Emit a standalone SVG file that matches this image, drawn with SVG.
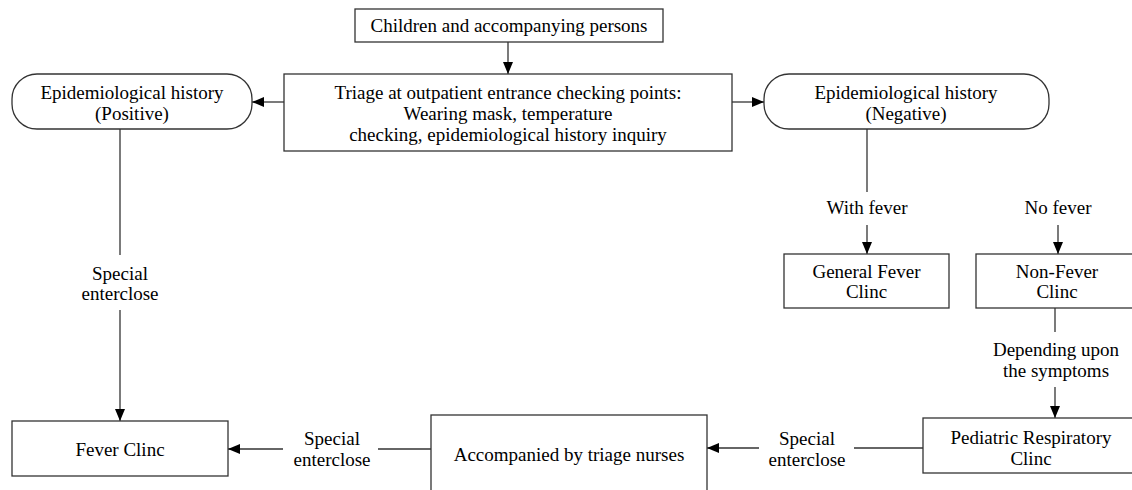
<svg xmlns="http://www.w3.org/2000/svg" width="1132" height="490" viewBox="0 0 1132 490">
<defs>
<marker id="ah" markerUnits="userSpaceOnUse" markerWidth="12" markerHeight="10" refX="12" refY="5" orient="auto">
<path d="M0,0 L12,5 L0,10 Z" fill="#000"/>
</marker>
<style>
.box{fill:#fff;stroke:#333;stroke-width:1.3}
.t{font-family:"Liberation Serif","Times New Roman",serif;font-size:19px;fill:#000;text-anchor:middle}
.c{fill:none;stroke:#333;stroke-width:1.3}
.a{fill:none;stroke:#333;stroke-width:1.3;marker-end:url(#ah)}
</style>
</defs>
<rect width="1132" height="490" fill="#fff"/>
<g id="connectors">
<line class="a" x1="508" y1="42" x2="508" y2="74"/>
<line class="a" x1="284" y1="102" x2="252" y2="102"/>
<line class="a" x1="732" y1="102" x2="764" y2="102"/>
<line class="c" x1="867" y1="129" x2="867" y2="192"/>
<line class="a" x1="867" y1="225" x2="867" y2="254"/>
<line class="a" x1="1058" y1="225" x2="1058" y2="254"/>
<line class="c" x1="1055" y1="308" x2="1055" y2="332"/>
<line class="a" x1="1055" y1="387" x2="1055" y2="418"/>
<line class="c" x1="923" y1="448" x2="854" y2="448"/>
<line class="a" x1="759" y1="448" x2="707" y2="448"/>
<line class="c" x1="431" y1="449" x2="378" y2="449"/>
<line class="a" x1="283" y1="449" x2="228" y2="449"/>
<line class="c" x1="120" y1="129" x2="120" y2="255"/>
<line class="a" x1="120" y1="310" x2="120" y2="421"/>
<text class="t" x="120" y="280">Special</text>
<text class="t" x="120" y="300">enterclose</text>
<text class="t" x="867" y="214">With fever</text>
<text class="t" x="1058" y="214">No fever</text>
<text class="t" x="1056" y="356">Depending upon</text>
<text class="t" x="1056" y="377">the symptoms</text>
<text class="t" x="807" y="445">Special</text>
<text class="t" x="807" y="466">enterclose</text>
<text class="t" x="332" y="445">Special</text>
<text class="t" x="332" y="466">enterclose</text>
</g>
<g id="children">
<rect class="box" x="355" y="9" width="308" height="33"/>
<text class="t" x="509" y="32">Children and accompanying persons</text>
</g>
<g id="triage">
<rect class="box" x="284" y="74" width="448" height="77"/>
<text class="t" x="508" y="99">Triage at outpatient entrance checking points:</text>
<text class="t" x="508" y="120">Wearing mask, temperature</text>
<text class="t" x="508" y="141">checking, epidemiological history inquiry</text>
</g>
<g id="positive">
<rect class="box" x="12" y="74" width="240" height="55" rx="25" ry="25"/>
<text class="t" x="132" y="99">Epidemiological history</text>
<text class="t" x="132" y="120">(Positive)</text>
</g>
<g id="negative">
<rect class="box" x="764" y="74" width="285" height="55" rx="25" ry="25"/>
<text class="t" x="906" y="99">Epidemiological history</text>
<text class="t" x="906" y="120">(Negative)</text>
</g>
<g id="general-fever">
<rect class="box" x="784" y="254" width="165" height="54"/>
<text class="t" x="866.5" y="278">General Fever</text>
<text class="t" x="866.5" y="298">Clinc</text>
</g>
<g id="non-fever">
<rect class="box" x="976" y="254" width="170" height="54"/>
<text class="t" x="1057" y="278">Non-Fever</text>
<text class="t" x="1057" y="298">Clinc</text>
</g>
<g id="pediatric">
<rect class="box" x="923" y="418" width="220" height="55"/>
<text class="t" x="1031" y="444">Pediatric Respiratory</text>
<text class="t" x="1031" y="465">Clinc</text>
</g>
<g id="accompanied">
<rect class="box" x="431" y="415" width="276" height="90"/>
<text class="t" x="569" y="461">Accompanied by triage nurses</text>
</g>
<g id="fever-clinic">
<rect class="box" x="12" y="421" width="216" height="55"/>
<text class="t" x="120" y="456">Fever Clinc</text>
</g>
</svg>
